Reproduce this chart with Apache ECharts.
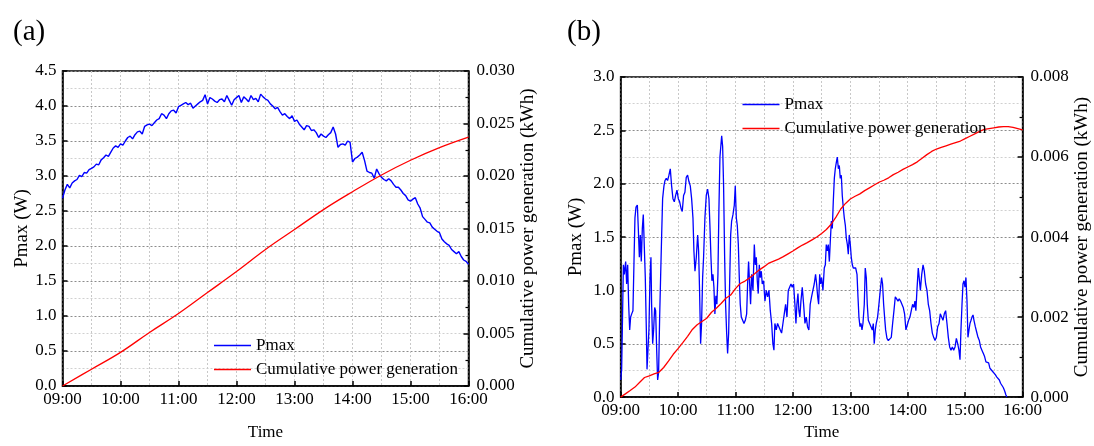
<!DOCTYPE html>
<html>
<head>
<meta charset="utf-8">
<script src="https://cdn.jsdelivr.net/npm/echarts@6/dist/echarts.min.js"></script>
<style>html,body{margin:0;padding:0;background:#fff}#c{width:1094px;height:446px}</style>
</head>
<body>
<div id="c"></div>
<script>
// ---------- data ----------
// Panel (a): Pmax sampled every 2.5 min from 09:00 to 16:00
var stepA = 2.5;
var pmaxA = [2.68,2.80,2.88,2.83,2.90,2.93,2.95,3.01,2.99,3.05,3.04,3.09,3.11,3.13,3.17,3.16,3.23,3.26,3.30,3.28,
3.34,3.40,3.43,3.41,3.46,3.44,3.50,3.55,3.57,3.53,3.59,3.63,3.64,3.60,3.71,3.73,3.74,3.72,3.76,3.80,
3.82,3.89,3.87,3.82,3.89,3.93,3.94,3.90,3.99,4.01,4.03,4.05,4.02,4.04,3.97,4.00,4.03,4.06,4.08,4.16,
4.03,4.12,4.10,4.07,4.05,4.09,4.10,4.06,4.15,4.08,4.01,4.09,4.12,4.15,4.05,4.13,4.10,4.06,4.15,4.09,
4.11,4.06,4.17,4.13,4.10,4.08,4.03,4.00,3.96,3.98,3.92,3.87,3.89,3.85,3.82,3.86,3.78,3.80,3.74,3.70,
3.66,3.72,3.71,3.65,3.66,3.62,3.55,3.60,3.57,3.55,3.59,3.62,3.70,3.60,3.41,3.45,3.46,3.44,3.50,3.48,
3.20,3.25,3.27,3.30,3.34,3.22,3.07,3.05,3.04,2.97,3.10,3.03,2.98,2.95,2.93,2.96,2.93,2.88,2.84,2.84,
2.80,2.75,2.72,2.66,2.64,2.67,2.69,2.60,2.54,2.42,2.38,2.34,2.33,2.27,2.24,2.21,2.19,2.10,2.06,2.03,
2.01,1.95,1.92,1.89,1.92,1.85,1.80,1.78,1.74];
// Panel (a): cumulative generation every 30 min
var stepCumA = 30;
var cumA = [0,0.0016,0.0032,0.0051,0.0069,0.0089,0.0109,0.0130,0.0149,0.0168,0.0185,0.0201,0.0215,0.0227,0.0237];

// Panel (b): Pmax, minutes after 09:00 and values (W)
var timesB = [0.1,1.1,1.8,2.9,3.9,5.3,6.3,7.4,8.4,9.5,10.5,11.6,12.9,14.0,15.0,16.1,17.5,18.5,19.6,20.6,
21.6,22.7,23.7,24.8,25.8,26.9,27.6,28.6,29.6,30.7,31.7,32.4,33.5,34.5,35.6,36.6,37.7,38.7,39.7,40.8,
41.8,42.9,43.9,45.3,46.4,47.7,49.1,50.5,51.9,53.3,54.7,56.1,57.5,58.9,60.3,61.7,63.1,64.4,65.8,67.2,
68.6,70.0,71.4,72.8,74.2,75.6,76.6,77.7,79.1,80.5,81.5,82.5,83.6,84.6,85.7,86.7,88.1,89.5,90.9,92.3,
93.3,94.4,95.4,96.5,97.5,98.5,99.6,100.6,101.7,102.7,103.8,105.6,106.6,107.6,108.7,109.7,110.8,111.8,112.9,113.9,
115.0,116.0,117.4,118.8,119.8,120.9,121.9,123.0,124.0,125.0,126.1,127.5,128.9,130.3,131.7,132.7,133.7,134.8,135.8,136.9,
138.3,139.7,140.7,141.8,142.8,143.8,144.9,145.9,147.0,148.0,149.4,150.8,152.2,153.6,155.0,156.4,157.8,159.1,160.2,161.2,
162.6,164.0,165.4,166.8,168.2,169.6,171.0,172.4,173.8,175.2,176.6,178.0,179.3,180.7,182.1,183.2,184.2,185.3,186.3,187.3,
188.4,189.8,191.2,192.6,194.0,195.3,196.7,198.1,199.5,200.9,202.3,203.7,204.8,205.9,206.9,208.0,209.0,210.0,211.4,212.8,
213.9,214.9,216.0,217.0,218.1,219.1,220.2,221.2,222.2,223.3,224.3,225.4,226.4,227.5,228.5,229.5,230.6,231.6,232.7,233.7,
234.8,235.8,236.9,237.9,238.9,240.0,241.0,242.1,243.1,244.2,245.6,247.0,248.0,249.0,250.1,251.1,252.2,253.2,254.6,255.6,
256.7,257.7,258.8,260.2,261.6,263.0,264.0,265.0,266.1,267.1,268.5,269.9,271.3,272.7,273.7,274.8,275.8,276.9,278.3,279.7,
281.4,282.8,284.2,285.6,287.0,288.4,289.8,291.1,292.5,293.9,295.3,296.7,298.1,299.5,300.9,302.3,303.7,305.1,306.5,307.5,
308.5,309.6,311.0,312.4,313.2,314.6,316.0,317.3,318.7,320.1,321.5,322.9,324.3,325.7,327.1,328.5,329.9,331.3,332.7,334.0,
335.4,336.8,338.2,339.6,341.0,342.4,343.8,345.2,346.6,348.0,349.4,350.8,352.2,353.5,354.6,355.6,356.7,357.7,358.8,359.8,
360.8,361.9,362.9,364.0,365.0,366.1,367.1,368.2,369.2,370.6,372.0,373.4,374.8,376.1,377.5,378.9,380.3,381.7,383.1,384.5,
385.9,387.3,388.7,390.1,391.5,392.9,394.3,395.7,397.0,398.4,399.8,401.2,402.6,403.6];
var pmaxB = [0.16,0.26,0.63,1.24,1.15,1.27,1.06,1.24,0.87,0.63,0.75,0.78,0.81,1.27,1.68,1.78,1.80,1.58,1.31,1.52,
1.27,1.58,1.71,1.40,1.12,0.63,0.26,0.27,0.63,1.12,1.31,0.87,0.50,0.63,0.84,0.81,0.44,0.16,0.23,0.75,
1.12,1.52,1.86,1.98,2.03,2.05,2.03,2.08,2.14,1.98,1.86,1.83,1.89,1.94,1.86,1.83,1.77,1.74,1.89,1.92,
2.06,2.08,2.02,1.98,1.86,1.68,1.37,1.18,1.31,1.52,1.37,1.00,0.50,0.69,1.12,1.31,1.68,1.89,1.95,1.86,
1.61,1.31,1.09,1.15,1.03,0.78,0.95,0.87,1.15,1.75,2.25,2.45,2.35,1.98,1.31,0.87,0.60,0.41,0.60,1.06,
1.52,1.65,1.71,1.80,1.98,1.68,1.61,1.43,1.12,0.87,0.75,0.75,0.69,0.72,0.78,1.06,1.27,1.06,0.87,1.15,
1.00,1.43,1.24,1.31,1.09,0.97,1.24,1.12,1.18,1.06,1.09,0.90,1.00,0.94,1.00,0.81,0.69,0.50,0.44,0.69,
0.63,0.69,0.66,0.63,0.60,0.69,0.78,0.87,0.75,1.00,1.03,1.06,1.03,1.06,0.87,0.69,0.87,0.97,0.81,0.75,
0.90,1.03,0.87,0.69,0.75,0.66,0.63,0.87,0.94,1.00,1.06,1.15,1.06,0.94,0.87,1.15,1.06,1.12,1.00,1.21,
1.24,1.43,1.37,1.43,1.27,1.46,1.65,1.58,1.83,2.05,2.14,2.20,2.25,2.14,2.17,2.05,2.08,1.89,1.77,1.68,
1.61,1.49,1.43,1.34,1.52,1.43,1.31,1.24,1.21,1.21,1.21,1.15,0.94,0.75,0.66,0.69,0.63,0.69,0.87,1.21,
1.12,0.87,0.72,0.69,0.66,0.63,0.69,0.50,0.63,0.69,0.75,0.87,1.00,1.12,1.06,0.87,0.75,0.63,0.55,0.53,
0.53,0.56,0.69,0.81,0.94,0.92,0.90,0.92,0.90,0.89,0.84,0.78,0.63,0.63,0.72,0.75,0.81,0.87,0.84,0.90,
0.81,1.00,1.21,1.21,1.00,1.15,1.24,1.18,1.06,1.00,0.87,0.81,0.69,0.60,0.56,0.53,0.56,0.66,0.69,0.78,
0.75,0.72,0.78,0.81,0.69,0.56,0.47,0.44,0.47,0.44,0.47,0.55,0.50,0.44,0.35,0.63,0.87,1.06,1.09,1.03,
1.12,0.90,0.56,0.63,0.69,0.72,0.75,0.77,0.72,0.66,0.61,0.56,0.53,0.47,0.44,0.41,0.38,0.33,0.32,0.32,
0.27,0.26,0.24,0.23,0.21,0.19,0.18,0.16,0.13,0.12,0.09,0.06,0.02,0.00];
// Panel (b): cumulative generation every 5 min
var stepCumB = 5;
var cumB = [0,0.00008,0.000164,0.00025,0.00037,0.00049,0.00053,0.00058,0.00062,0.00074,0.0009,0.00107,0.00121,0.00136,0.00152,0.00169,0.00181,0.00189,0.00197,0.00212,
0.00222,0.00234,0.00247,0.00255,0.00271,0.00284,0.0029,0.00298,0.00308,0.00318,0.00326,0.00335,0.0034,0.00345,0.00351,0.00358,0.00365,0.00373,0.0038,0.00386,
0.00393,0.004,0.00409,0.00419,0.00432,0.0045,0.0047,0.00484,0.00495,0.00502,0.00508,0.00516,0.00523,0.0053,0.00537,0.00542,0.00548,0.00556,0.00562,0.00569,
0.00575,0.00581,0.00588,0.00597,0.00606,0.00614,0.0062,0.00624,0.00628,0.00632,0.00636,0.0064,0.00646,0.00652,0.00658,0.00664,0.00669,0.00671,0.00673,0.00675,
0.00676,0.00676,0.00674,0.00671,0.00668];

var xTicks = ['09:00','10:00','11:00','12:00','13:00','14:00','15:00','16:00'];
var seriesNames = ['Pmax','Cumulative power generation'];

// ---------- build ----------
function uniform(arr, step){ return arr.map(function(v,i){ return [i*step, v]; }); }
function paired(t, v){ return t.map(function(x,i){ return [x, v[i]]; }); }

var FONT = 'Liberation Serif';
var BLUE = '#0000ff', RED = '#ff0000';

function xAxisOf(g, gap){
  return {
    type:'value', gridIndex:g, min:0, max:420, interval:60,
    name:'Time', nameLocation:'middle', nameGap:gap,
    nameTextStyle:{fontFamily:FONT, fontSize:17, color:'#000'},
    axisLine:{onZero:false, lineStyle:{color:'#000', width:1.5}},
    axisTick:{inside:true, length:5, lineStyle:{color:'#000', width:1.5}},
    minorTick:{show:false, splitNumber:2},
    axisLabel:{margin:5, fontFamily:FONT, fontSize:17, color:'#000',
      formatter:function(v){ return xTicks[Math.round(v/60)]; }},
    splitLine:{show:true, lineStyle:{color:'#c8c8c8', type:[2,2], width:1}},
    minorSplitLine:{show:true, lineStyle:{color:'#c8c8c8', type:[2,2], width:1}}
  };
}
function leftAxis(g, max, gap){
  return {
    type:'value', gridIndex:g, position:'left', min:0, max:max, interval:0.5,
    name:'Pmax (W)', nameLocation:'middle', nameGap:gap,
    nameTextStyle:{fontFamily:FONT, fontSize:19, color:'#000'},
    axisLine:{show:true, lineStyle:{color:'#000', width:1.5}},
    axisTick:{show:true, inside:true, length:5, lineStyle:{color:'#000', width:1.5}},
    minorTick:{show:false, splitNumber:2},
    axisLabel:{margin:6, fontFamily:FONT, fontSize:17, color:'#000',
      formatter:function(v){ return v.toFixed(1); }},
    splitLine:{show:true, lineStyle:{color:'#8c8c8c', type:[2,2], width:1}},
    minorSplitLine:{show:true, lineStyle:{color:'#d0d0d0', type:[2,2], width:1}}
  };
}
function rightAxis(g, max, interval, gap){
  return {
    type:'value', gridIndex:g, position:'right', min:0, max:max, interval:interval,
    name:'Cumulative power generation (kWh)', nameLocation:'middle', nameGap:gap,
    nameTextStyle:{fontFamily:FONT, fontSize:19, color:'#000'},
    axisLine:{show:true, lineStyle:{color:'#000', width:1.5}},
    axisTick:{show:true, inside:true, length:5, lineStyle:{color:'#000', width:1.5}},
    minorTick:{show:true, splitNumber:2, length:3, lineStyle:{color:'#000', width:1.2}},
    axisLabel:{margin:8, fontFamily:FONT, fontSize:17, color:'#000',
      formatter:function(v){ return v.toFixed(3); }},
    splitLine:{show:false}
  };
}
function legendOf(left, top){
  return {
    data:seriesNames, orient:'vertical', left:left, top:top,
    itemWidth:37, itemHeight:14, itemGap:7, icon:'path://M0,7 L37,7 L37,8.5 L0,8.5 Z',
    textStyle:{fontFamily:FONT, fontSize:17, color:'#000'},
    selectedMode:false
  };
}

var chart = echarts.init(document.getElementById('c'), null, {renderer:'canvas'});
chart.setOption({
  animation:false,
  backgroundColor:'#fff',
  title:[
    {text:'(a)', left:8, top:13, textStyle:{fontFamily:FONT, fontSize:29, fontWeight:'normal', color:'#000'}},
    {text:'(b)', left:562, top:13, textStyle:{fontFamily:FONT, fontSize:29, fontWeight:'normal', color:'#000'}}
  ],
  grid:[
    {left:62.5, top:71, width:406, height:326.5, show:true, borderColor:'#000', borderWidth:1.5, containLabel:false},
    {left:620.6, top:77, width:402, height:324, show:true, borderColor:'#000', borderWidth:1.5, containLabel:false}
  ],
  legend:[legendOf(209, 332), legendOf(737.5, 91)],
  xAxis:[xAxisOf(0, 38), xAxisOf(1, 24)],
  yAxis:[leftAxis(0, 4.5, 31), rightAxis(0, 0.03, 0.005, 50), leftAxis(1, 3.0, 35), rightAxis(1, 0.008, 0.002, 49)],
  series:[
    {name:seriesNames[0], type:'line', xAxisIndex:0, yAxisIndex:0, data:uniform(pmaxA, stepA),
     symbol:'none', lineStyle:{color:BLUE, width:1.4}, itemStyle:{color:BLUE}},
    {name:seriesNames[1], type:'line', xAxisIndex:0, yAxisIndex:1, data:uniform(cumA, stepCumA), smooth:0.4,
     symbol:'none', lineStyle:{color:RED, width:1.3}, itemStyle:{color:RED}},
    {name:seriesNames[0], type:'line', xAxisIndex:1, yAxisIndex:2, data:paired(timesB, pmaxB),
     symbol:'none', lineStyle:{color:BLUE, width:1.3}, itemStyle:{color:BLUE}},
    {name:seriesNames[1], type:'line', xAxisIndex:1, yAxisIndex:3, data:uniform(cumB, stepCumB),
     symbol:'none', lineStyle:{color:RED, width:1.3}, itemStyle:{color:RED}}
  ]
});
</script>
</body>
</html>
